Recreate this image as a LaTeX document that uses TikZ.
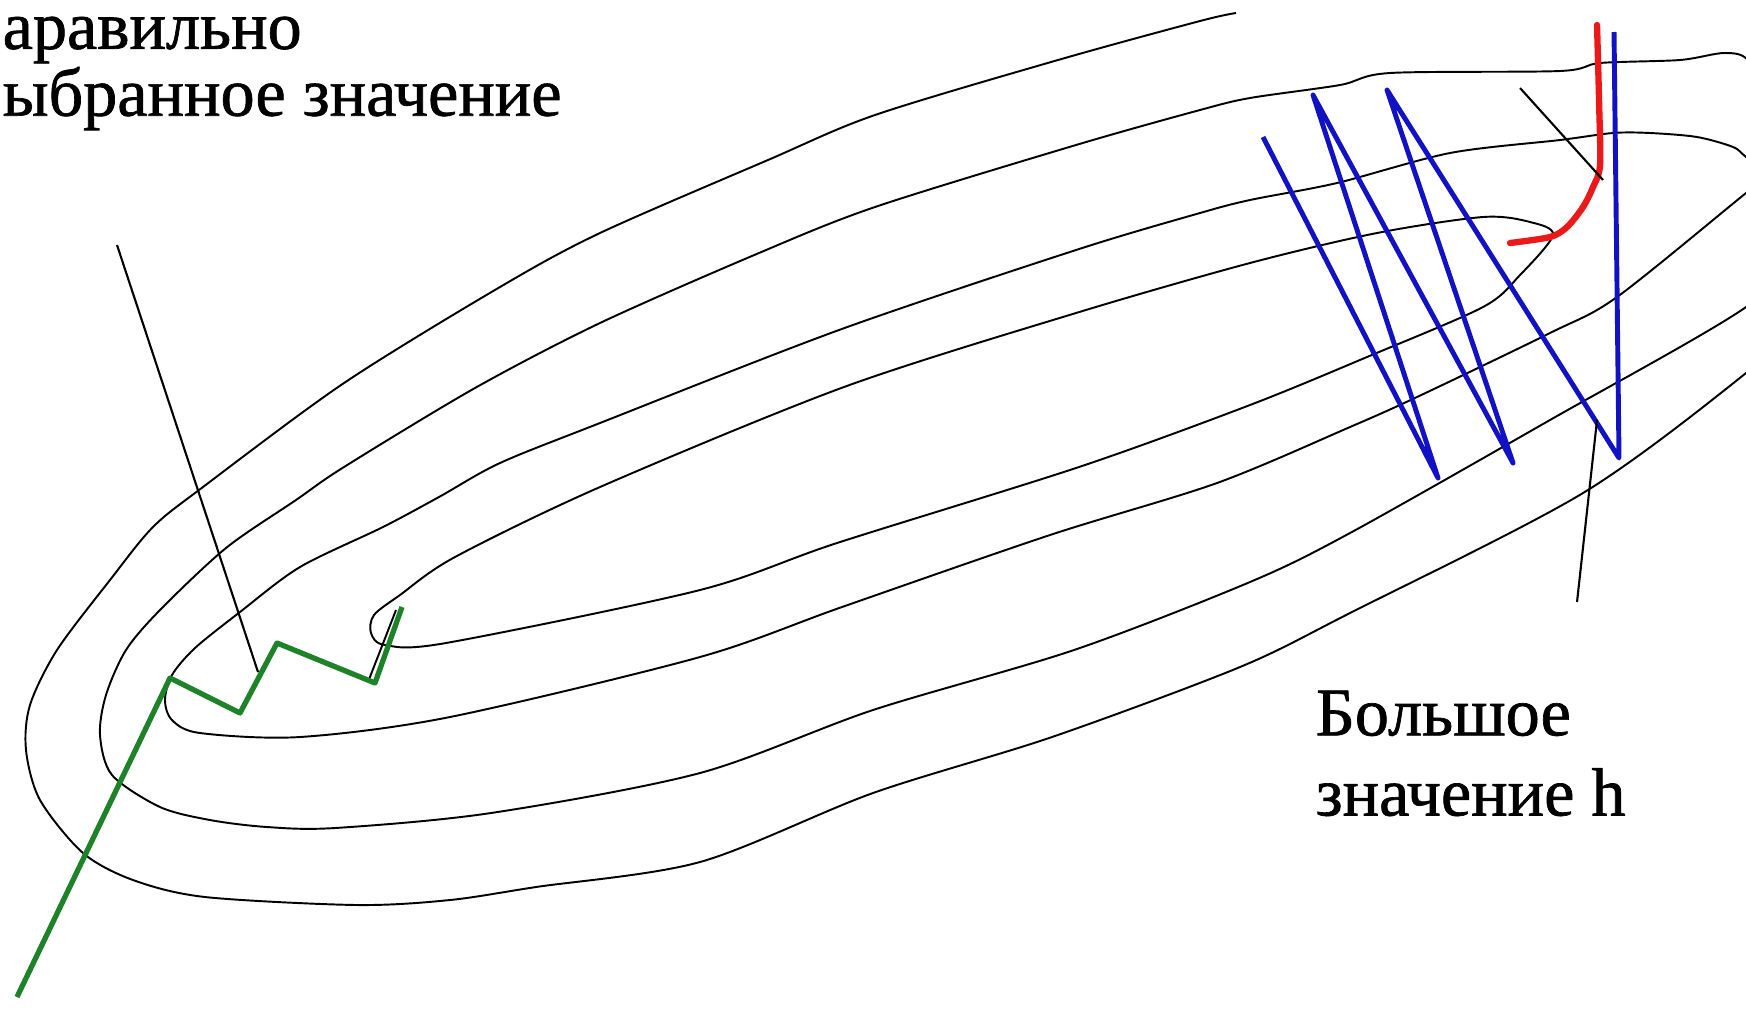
\documentclass[tikz,border=0pt]{standalone}
\usepackage{fontspec}
\setmainfont{Liberation Serif}
\newfontfamily\notefont[FakeBold=1]{Liberation Serif}
\usepackage{tikz}
\usepackage{xcolor}
\usetikzlibrary{positioning,calc}
\definecolor{walkGreen}{RGB}{30,130,40}
\definecolor{walkBlue}{RGB}{18,18,195}
\definecolor{walkRed}{RGB}{235,25,25}

\begin{document}
\begin{tikzpicture}[
    x=0.1mm, y=-0.1mm,
    level/.style={draw=black, line width=0.55pt},
    pointer/.style={draw=black, line width=0.6pt},
    greenwalk/.style={draw=walkGreen, line width=1.5pt, line join=round},
    bluewalk/.style={draw=walkBlue, line width=1.4pt, line join=round},
    redwalk/.style={draw=walkRed, line width=1.8pt, line cap=round},
    note/.style={inner sep=0pt, align=left, text=black}
]

\useasboundingbox (0,0) rectangle (1746,1009);
\clip (0,0) rectangle (1746,1009);

\draw[level] plot[smooth] coordinates {(1236,13) (1200,21) (1058,60) (875,115) (768,160) (600,233) (500,287) (344,383) (203,487) (153,527) (110,580) (57,650) (30,705) (26,750) (40,800) (83,853) (133,880) (205,897) (357,905) (450,900) (536,887) (700,862) (873,793) (1052,737) (1240,667) (1350,613) (1583,493) (1746,373) (1800,320)};
\draw[level] plot[smooth] coordinates {(1790,250) (1746,307) (1550,420) (1350,533) (1250,582) (1074,650) (873,710) (700,773) (491,813) (335,828) (267,827) (210,820) (160,807) (112,775) (100,735) (106,695) (126,650) (160,610) (226,548) (296,500) (344,467) (475,388) (600,323) (759,253) (875,207) (1076,145) (1200,110) (1250,98) (1340,85) (1390,73) (1560,71) (1600,63) (1680,60) (1725,53) (1750,62) (1785,120)};
\draw[level] plot[smooth] coordinates {(1770,175) (1746,157) (1733,147) (1697,137) (1650,133) (1613,133) (1560,140) (1450,153) (1337,183) (1250,200) (1200,213) (1076,250) (839,330) (600,423) (500,463) (439,497) (383,527) (300,567) (240,612) (195,648) (172,675) (165,700) (172,720) (200,733) (300,737) (450,717) (700,657) (842,607) (1050,535) (1217,483) (1350,427) (1417,397) (1550,333) (1617,297) (1746,193) (1770,175)};
\draw[level] plot[smooth cycle] coordinates {(1553,235) (1530,222) (1483,217) (1377,233) (1250,263) (1076,313) (844,387) (600,487) (455,557) (400,595) (374,615) (371,633) (385,645) (446,643) (700,590) (837,543) (1079,467) (1250,405) (1367,357) (1483,307) (1520,275)};
\draw[level] (396,610) -- (368,682);

\draw[greenwalk] (17,997) -- (170,678) -- (240,713) -- (277,643) -- (375,683) -- (402,607);
\draw[bluewalk] (1263,137) -- (1438,478) -- (1313,95) -- (1513,463) -- (1387,90) -- (1619,458) -- (1614,32);
\draw[redwalk] plot[smooth] coordinates {(1597,25) (1599,100) (1600,165) (1593,187) (1583,207) (1567,227) (1550,237) (1510,243)};

\node[note, anchor=north west, font=\notefont\fontsize{19.4pt}{17.9pt}\selectfont] (wronglabel) at (2,16) {аравильно\\ыбранное значение};
\node[note, anchor=north west, font=\notefont\fontsize{19.4pt}{22.8pt}\selectfont] (biglabel) at (1315,690) {Большое\\ значение h};

\coordinate (wrongtail) at (117,245);
\coordinate (wrongtip) at (258,672);
\coordinate (smalltail) at (1520,88);
\coordinate (smalltip) at (1603,180);
\coordinate (bigtail) at (1577,602);
\coordinate (bigtip) at (1597,420);

\draw[pointer] (wrongtail) -- (wrongtip);
\draw[pointer] (smalltail) -- (smalltip);
\draw[pointer] (bigtail) -- (bigtip);

\end{tikzpicture}
\end{document}
